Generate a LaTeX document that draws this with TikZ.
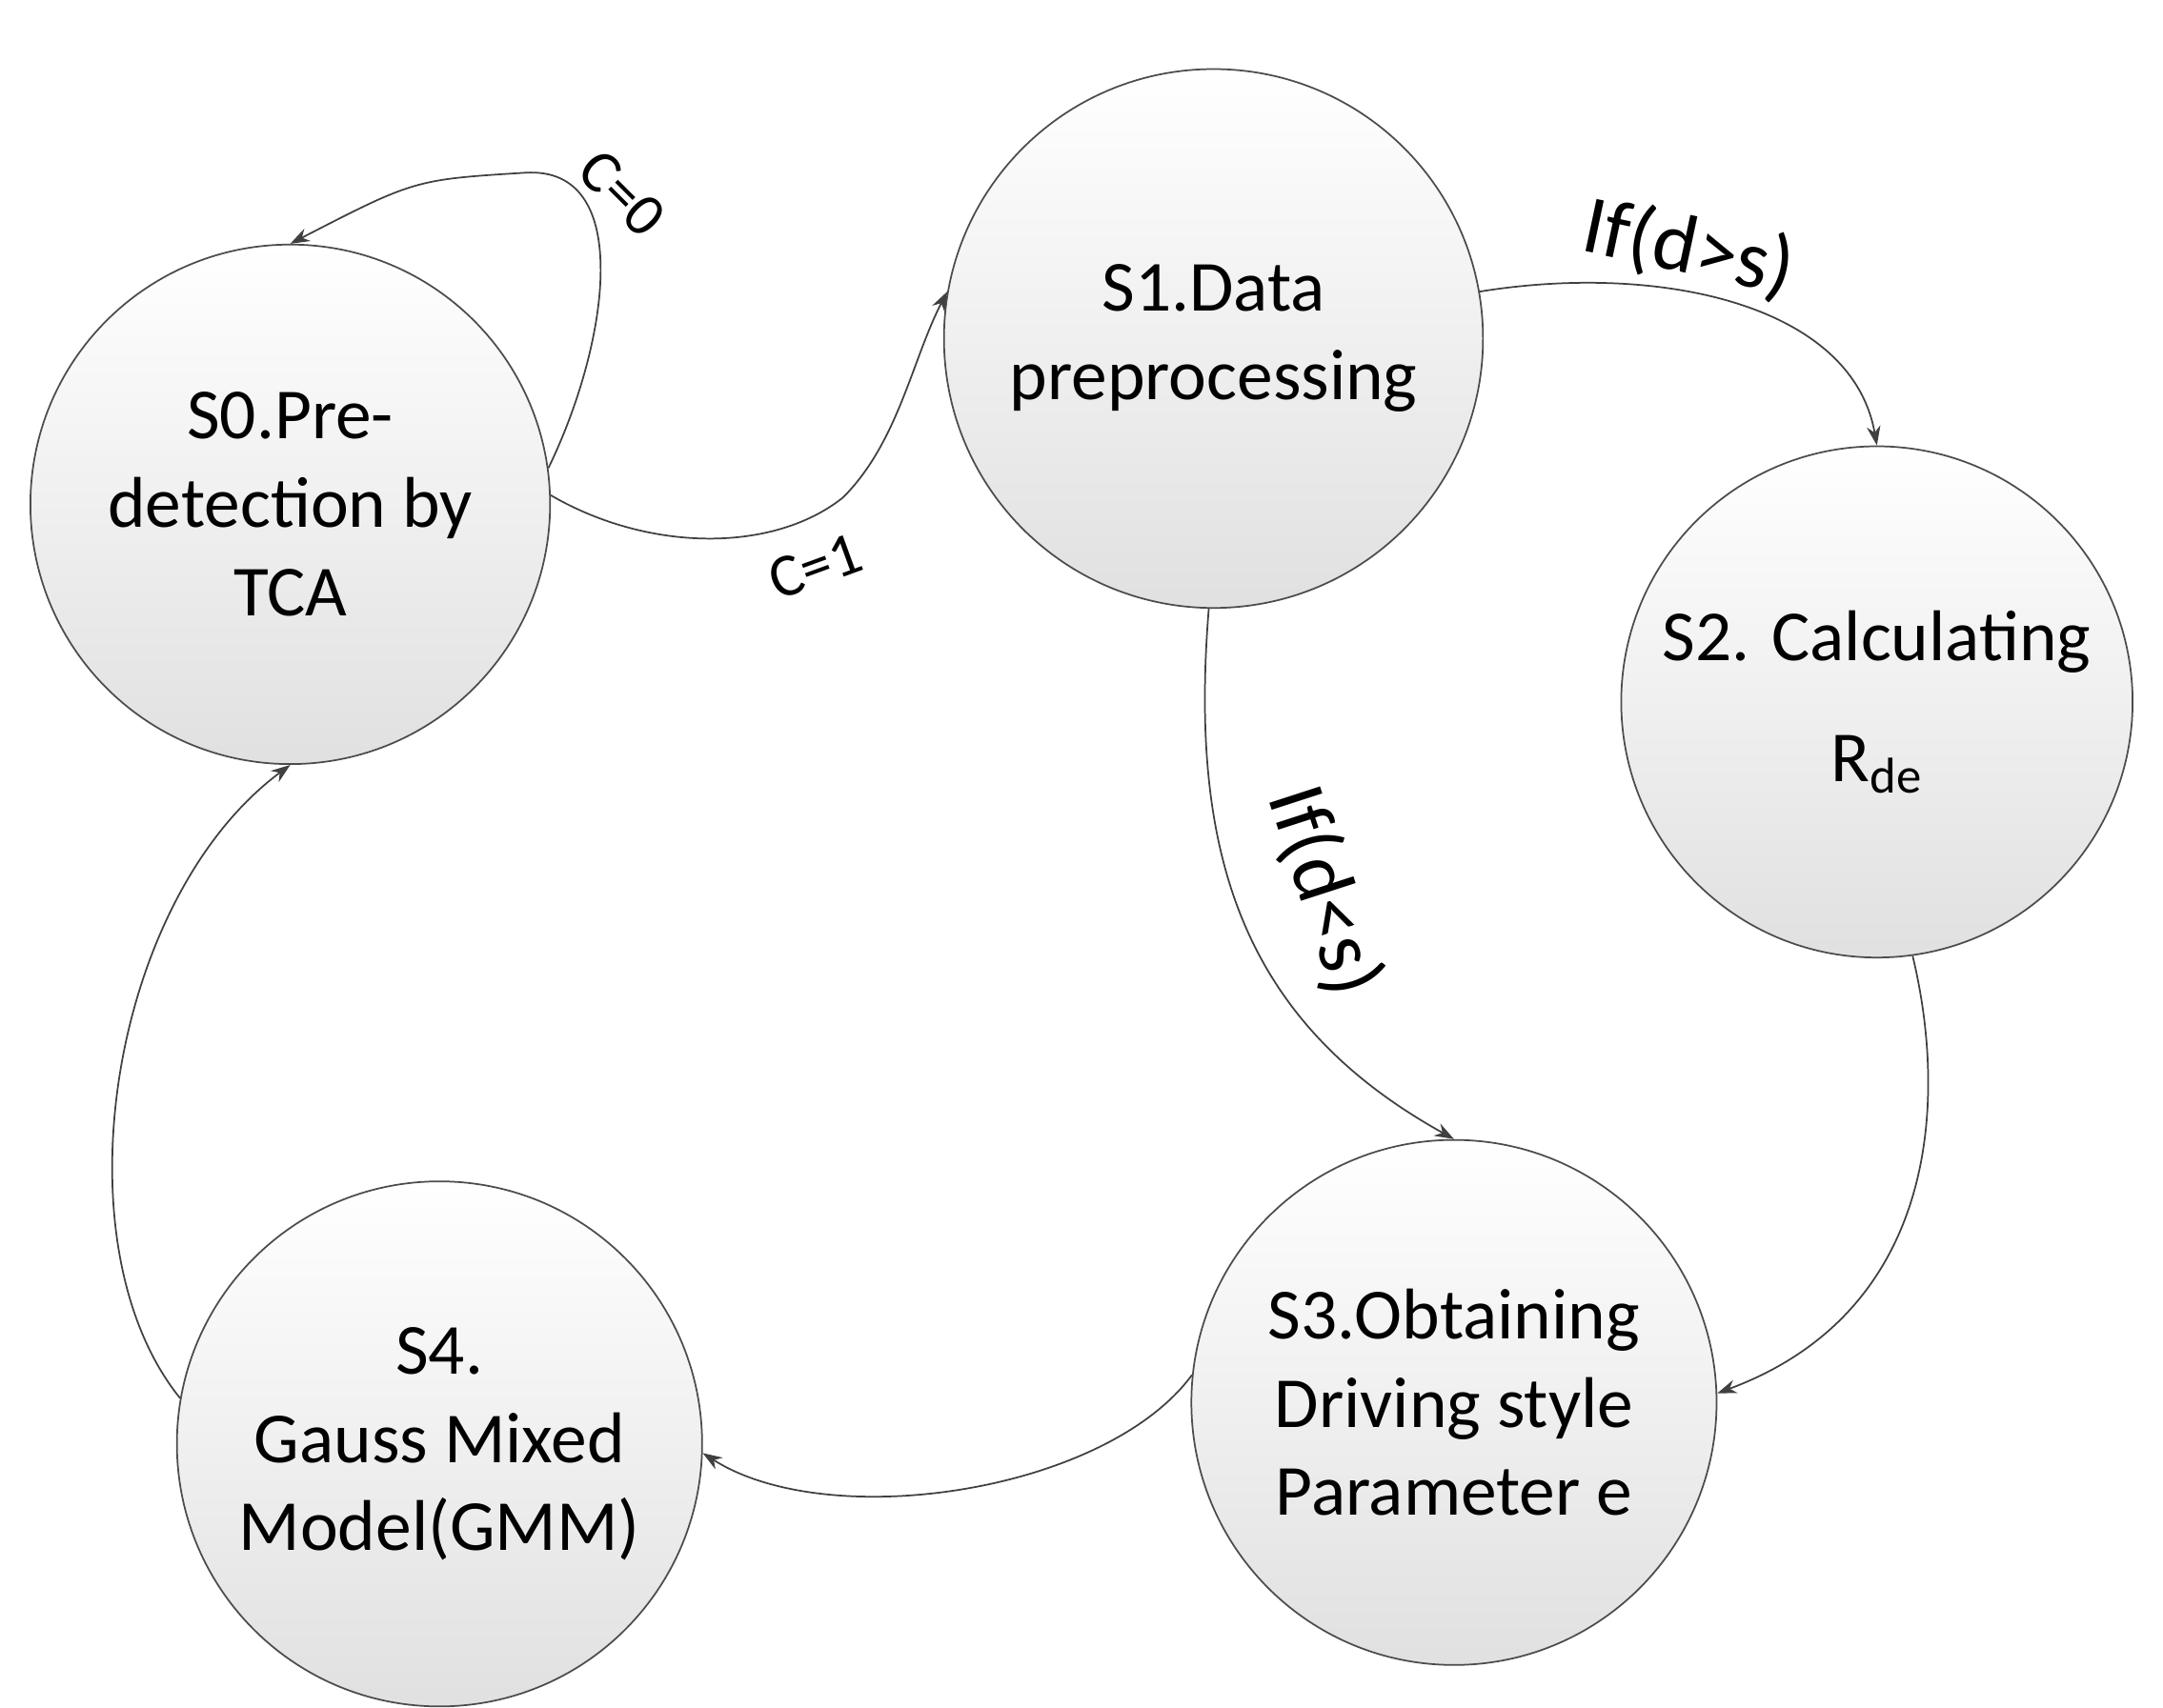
\documentclass[tikz,border=0pt]{standalone}
\usepackage{fontspec}
\setmainfont{Carlito}
\usetikzlibrary{arrows.meta}
\begin{document}
\begin{tikzpicture}[x=0.5pt,y=-0.5pt,
  st/.style={circle,draw=black!70,line width=0.6pt,top color=white,bottom color=black!12,minimum size=#1*0.5pt,align=center,font=\fontsize{26}{32}\selectfont,inner sep=0pt},
  ar/.style={draw=black!75,line width=0.6pt,-{Stealth[length=7pt,width=5pt]}},
  lb/.style={font=\fontsize{22}{24}\selectfont}]
\useasboundingbox (0,0) rectangle (1565,1236);
\node[st=376] (s0) at (210,365) {S0.Pre-\\detection by\\TCA};
\node[st=390] (s1) at (878,245) {S1.Data\\preprocessing};
\node[st=370] (s2) at (1358,508) {\textrm{S2.} Calculating\\[12pt]$\mathrm{R}_{\mathrm{de}}$};
\node[st=380] (s3) at (1052,1015) {S3.Obtaining\\Driving style\\Parameter e};
\node[st=380] (s4) at (318,1045) {S4.\\Gauss Mixed\\Model(GMM)};
\draw[ar] (s0.8) .. controls (440,250) and (460,120) .. (380,125) .. controls (300,130) .. (s0.90);
\node[lb,rotate=-45] (c0) at (450,140) {C=0};
\draw[ar] (s0.2) .. controls (470,400) and (560,400) .. (610,360) .. controls (650,320) and (660,260) .. (s1.170);
\node[lb,rotate=20] (c1) at (590,410) {C=1};
\draw[ar] (s1.10) .. controls (1200,190) and (1340,220) .. (s2.90);
\node[font=\fontsize{30}{32}\selectfont,rotate=-12] (g) at (1222,180) {If(d>s)};
\draw[ar] (s1.-91) .. controls (860,620) and (900,740) .. (s3.90);
\node[font=\fontsize{30}{32}\selectfont,rotate=-72] (l) at (958,645) {If(d<s)};
\draw[ar] (s2.-82) .. controls (1410,800) and (1400,950) .. (s3.2);
\draw[ar] (s3.174) .. controls (800,1080) and (600,1110) .. (s4.-2);
\draw[ar] (s4.170) .. controls (40,900) and (80,650) .. (s0.-90);
\end{tikzpicture}
\end{document}
